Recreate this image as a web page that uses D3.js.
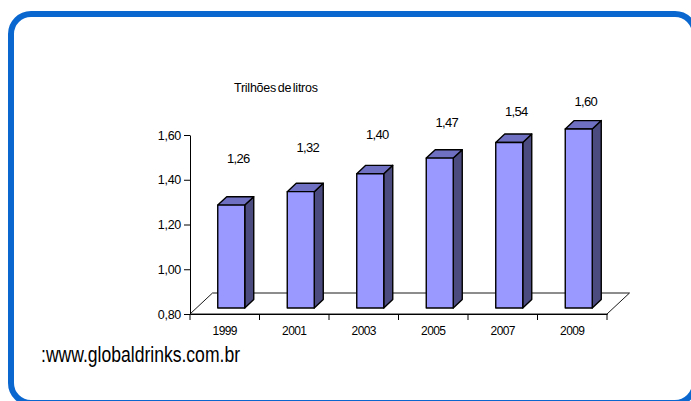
<!DOCTYPE html>
<html>
<head>
<meta charset="utf-8">
<script src="https://cdn.jsdelivr.net/npm/d3@7"></script>
<style>
  html, body { margin: 0; padding: 0; background: #fff; overflow: hidden; }
  svg { display: block; overflow: hidden; }
  text { font-family: "Liberation Sans", Arial, sans-serif; fill: #000; }
</style>
</head>
<body>
<svg id="chart" width="691" height="401"></svg>
<script>
// ---- data ----
const years = ["1999", "2001", "2003", "2005", "2007", "2009"];
const values = [1.26, 1.32, 1.40, 1.47, 1.54, 1.60];
const yTicks = [0.80, 1.00, 1.20, 1.40, 1.60];
const titleText = "Trilhões de litros";
const sourceText = ":www.globaldrinks.com.br";

// ---- layout ----
const svg = d3.select("#chart");
const plot = { left: 190, right: 607, top: 135, bottom: 314 };
const floorDepth = { dx: 22.5, dy: -21 };      // depth vector of floor
const barDepth = { dx: 9, dy: -8.4 };          // depth of each bar
const barOff = { dx: 6.5, dy: -6 };            // bar placement inside floor depth
const barW = 27;

const locale = d3.formatLocale({ decimal: ",", thousands: ".", grouping: [3], currency: ["", ""] });
const fmt = locale.format(".2f");

const x = d3.scaleBand().domain(years).range([plot.left, plot.right]).padding(0);
const y = d3.scaleLinear().domain([0.8, 1.6]).range([plot.bottom, plot.top]);
// Data labels in the original 3D chart sit on their own (compressed) plane
const yLabel = d3.scaleLinear().domain([0.8, 1.6]).range([235, 101]);

// frame (right and bottom run off the canvas)
svg.append("rect")
  .attr("x", 11).attr("y", 14)
  .attr("width", 684).attr("height", 389)
  .attr("rx", 20).attr("ry", 20)
  .attr("fill", "#fff")
  .attr("stroke", "#0a67cf")
  .attr("stroke-width", 6);

// floor
const y0 = y(0.8);
const floorPts = [
  [plot.left, y0],
  [plot.left + floorDepth.dx, y0 + floorDepth.dy],
  [plot.right + floorDepth.dx, y0 + floorDepth.dy],
  [plot.right, y0]
];
svg.append("polygon")
  .attr("points", floorPts.map(p => p.join(",")).join(" "))
  .attr("fill", "none")
  .attr("stroke", "#000")
  .attr("stroke-width", 0.9);

// y axis
const yAxis = d3.axisLeft(y).tickValues(yTicks).tickFormat(fmt).tickSize(6).tickSizeOuter(0).tickPadding(3);
const gy = svg.append("g").attr("transform", `translate(${plot.left},0)`).call(yAxis);
gy.selectAll("text").attr("font-size", 12.5).attr("letter-spacing", -0.3)
  .style("font-family", "'Liberation Sans', Arial, sans-serif");
gy.selectAll("path,line").attr("stroke", "#000");

// x axis (labels centred, ticks on category boundaries)
const xAxis = d3.axisBottom(x).tickSize(0).tickSizeOuter(0).tickPadding(12);
const gx = svg.append("g").attr("transform", `translate(0,${y0})`).call(xAxis);
gx.select(".domain").attr("stroke", "#000");
gx.selectAll("text").attr("font-size", 12).attr("letter-spacing", -0.6)
  .style("font-family", "'Liberation Sans', Arial, sans-serif");
const bounds = years.map(d => x(d)).concat([x(years[years.length - 1]) + x.bandwidth()]);
gx.selectAll(".bnd").data(bounds).enter().append("line")
  .attr("x1", d => d).attr("x2", d => d)
  .attr("y1", 0).attr("y2", 6)
  .attr("stroke", "#000");

// bars
const bars = svg.append("g");
years.forEach((yr, i) => {
  const v = values[i];
  const x0 = x(yr) + x.bandwidth() / 2 + barOff.dx - barW / 2;
  const x1 = x0 + barW;
  const yt = y(v) + barOff.dy;
  const yb = y(0.8) + barOff.dy;
  const g = bars.append("g").attr("stroke", "#000").attr("stroke-width", 1.4).attr("stroke-linejoin", "round");
  // side
  g.append("polygon")
    .attr("points", [[x1, yt], [x1 + barDepth.dx, yt + barDepth.dy], [x1 + barDepth.dx, yb + barDepth.dy], [x1, yb]].map(p => p.join(",")).join(" "))
    .attr("fill", "#4b4b80");
  // top
  g.append("polygon")
    .attr("points", [[x0, yt], [x0 + barDepth.dx, yt + barDepth.dy], [x1 + barDepth.dx, yt + barDepth.dy], [x1, yt]].map(p => p.join(",")).join(" "))
    .attr("fill", "#7070c2");
  // front
  g.append("rect")
    .attr("x", x0).attr("y", yt)
    .attr("width", barW).attr("height", yb - yt)
    .attr("fill", "#9999ff");
});

// value labels
svg.append("g").selectAll("text").data(values).enter().append("text")
  .attr("x", (d, i) => x(years[i]) + x.bandwidth() / 2 + barOff.dx + barDepth.dx / 2 + 2.5)
  .attr("y", d => yLabel(d))
  .attr("dy", "0.35em")
  .attr("text-anchor", "middle")
  .attr("font-size", 13)
  .attr("letter-spacing", -0.7)
  .text(d => fmt(d));

// title
svg.append("text")
  .attr("x", 234).attr("y", 92)
  .attr("font-size", 12.5)
  .attr("letter-spacing", -0.25)
  .attr("word-spacing", -1.5)
  .text(titleText);

// source
svg.append("text")
  .attr("x", 41).attr("y", 362)
  .attr("font-size", 22)
  .attr("textLength", 199)
  .attr("lengthAdjust", "spacingAndGlyphs")
  .text(sourceText);
</script>
</body>
</html>
